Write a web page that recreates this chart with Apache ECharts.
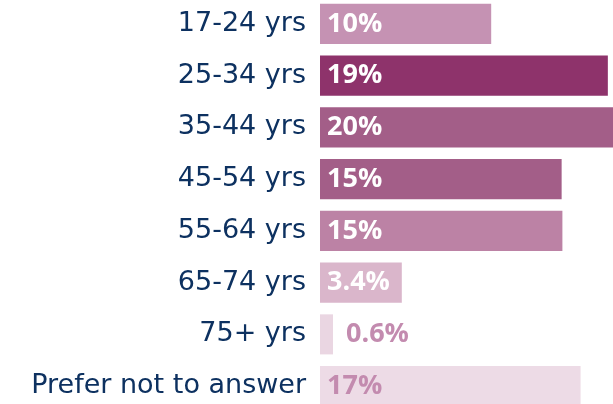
<!DOCTYPE html>
<html>
<head>
<meta charset="utf-8">
<script src="https://cdn.jsdelivr.net/npm/echarts@6/dist/echarts.min.js"></script>
<style>
  html, body { margin: 0; padding: 0; background: #fff; }
  #chart { width: 613px; height: 404px; }
</style>
</head>
<body>
<div id="chart"></div>
<script>
// age groups, top to bottom
const ageGroups = ['17-24 yrs', '25-34 yrs', '35-44 yrs', '45-54 yrs', '55-64 yrs', '65-74 yrs', '75+ yrs', 'Prefer not to answer']
// printed shares (%)
const shareLabels = ['10%', '19%', '20%', '15%', '15%', '3.4%', '0.6%', '17%']
// bar lengths as drawn in the picture (% units on the axis)
const barLengths = [11.3, 19, 20, 15.95, 16, 5.4, 0.86, 17.2]
const barColors = ['#C592B3', '#8E336B', '#A35E88', '#A35E88', '#BC82A5', '#DAB6CB', '#EAD6E2', '#EDDBE6']

const chart = echarts.init(document.getElementById('chart'))

chart.setOption({
  animation: false,
  grid: {
    left: 320,
    top: -2,
    width: 303,
    height: 414,
    outerBoundsMode: 'none'
  },
  xAxis: {
    type: 'value',
    min: 0,
    max: 20,
    show: false
  },
  yAxis: {
    type: 'category',
    inverse: true,
    data: ageGroups,
    axisLine: { show: false },
    axisTick: { show: false },
    axisLabel: {
      margin: 14,
      color: '#0D3160',
      fontFamily: 'DejaVu Sans',
      fontSize: 27
    }
  },
  series: [{
    type: 'bar',
    barCategoryGap: '22.6%',
    data: barLengths.map((v, i) => ({
      value: v,
      itemStyle: { color: barColors[i] },
      label: i === 6
        ? { position: 'right', distance: 13, color: '#C38BAF' }
        : (i === 7 ? { color: '#C38BAF' } : {})
    })),
    label: {
      show: true,
      position: 'insideLeft',
      distance: 7,
      color: '#fff',
      fontFamily: 'Open Sans',
      fontWeight: 'bold',
      fontSize: 27,
      formatter: p => shareLabels[p.dataIndex]
    }
  }]
})
</script>
</body>
</html>
